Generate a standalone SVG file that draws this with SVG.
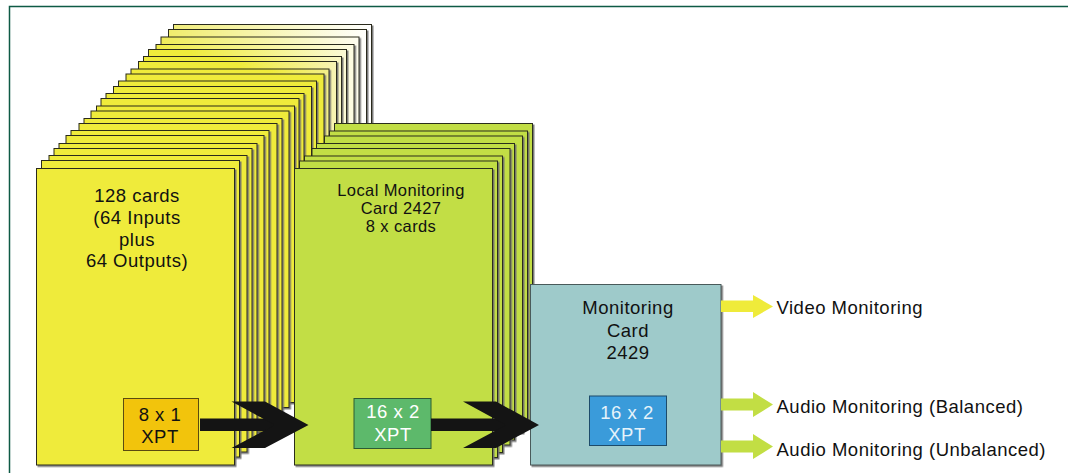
<svg xmlns="http://www.w3.org/2000/svg" width="1068" height="473" viewBox="0 0 1068 473">
<defs>
<style>
.t{font-family:"Liberation Sans",Arial,sans-serif;font-size:18.5px;letter-spacing:0.5px;fill:#111;text-anchor:middle}
.ts{font-size:16.5px;letter-spacing:0.4px}
.tl{text-anchor:start}
.yc{fill:#EFEB3A;stroke:#2b2a1c;stroke-width:1;filter:url(#ds)}
.gc{fill:#C2DE44;stroke:#2b2f1c;stroke-width:1;filter:url(#ds)}
.mc{fill:#9ECACA;stroke:#4a5a5a;stroke-width:1;filter:url(#ds)}
.blk{fill:#141414}
</style>
<filter id="ds" x="-5%" y="-5%" width="115%" height="115%">
<feDropShadow dx="1.5" dy="1.5" stdDeviation="0.4" flood-color="#6e6e6e" flood-opacity="0.9"/>
</filter>
<linearGradient id="g1" x1="0" y1="0" x2="1" y2="0"><stop offset="0" stop-color="#F1ED7C"/><stop offset="1" stop-color="#FFFFFF"/></linearGradient>
<linearGradient id="g2" x1="0" y1="0" x2="1" y2="0"><stop offset="0" stop-color="#F0EC6C"/><stop offset="1" stop-color="#FFFFFC"/></linearGradient>
<linearGradient id="g3" x1="0" y1="0" x2="1" y2="0"><stop offset="0" stop-color="#EFEB58"/><stop offset="1" stop-color="#FEFDF0"/></linearGradient>
<linearGradient id="g4" x1="0" y1="0" x2="1" y2="0"><stop offset="0" stop-color="#EFEB46"/><stop offset="1" stop-color="#FDFCE4"/></linearGradient>
<linearGradient id="g5" x1="0" y1="0" x2="1" y2="0"><stop offset="0.2" stop-color="#EFEB3A"/><stop offset="1" stop-color="#FBF9D6"/></linearGradient>
<linearGradient id="g6" x1="0" y1="0" x2="1" y2="0"><stop offset="0.4" stop-color="#EFEB3A"/><stop offset="1" stop-color="#F9F6C6"/></linearGradient>
<linearGradient id="g7" x1="0" y1="0" x2="1" y2="0"><stop offset="0.5" stop-color="#EFEB3A"/><stop offset="1" stop-color="#F7F3B4"/></linearGradient>
<linearGradient id="g8" x1="0" y1="0" x2="1" y2="0"><stop offset="0.7" stop-color="#EFEB3A"/><stop offset="1" stop-color="#F3EF8C"/></linearGradient>
</defs>
<rect width="1068" height="473" fill="#FFFFFF"/>
<path d="M9.5,473 V6.5 H1068" fill="none" stroke="#0E5A45" stroke-width="1.5"/>

<g id="io-card-stack">
<rect class="yc" x="173.5" y="24.5" width="198" height="296.5" style="fill:url(#g1)"/>
<rect class="yc" x="168.5" y="29.5" width="198" height="296.5" style="fill:url(#g2)"/>
<rect class="yc" x="161" y="37" width="198" height="296.5" style="fill:url(#g3)"/>
<rect class="yc" x="156" y="44.5" width="198" height="296.5" style="fill:url(#g4)"/>
<rect class="yc" x="148.5" y="49.5" width="198" height="296.5" style="fill:url(#g5)"/>
<rect class="yc" x="143.5" y="56.5" width="198" height="296.5" style="fill:url(#g6)"/>
<rect class="yc" x="138.5" y="61.5" width="198" height="296.5" style="fill:url(#g7)"/>
<rect class="yc" x="131" y="69" width="198" height="296.5" style="fill:url(#g8)"/>
<rect class="yc" x="126" y="74" width="198" height="296.5"/>
<rect class="yc" x="118.5" y="81" width="198" height="296.5"/>
<rect class="yc" x="113.5" y="86.5" width="198" height="296.5"/>
<rect class="yc" x="106" y="93.5" width="198" height="296.5"/>
<rect class="yc" x="101" y="98.5" width="198" height="296.5"/>
<rect class="yc" x="96.5" y="106" width="198" height="296.5"/>
<rect class="yc" x="91" y="111" width="198" height="296.5"/>
<rect class="yc" x="84" y="118.5" width="198" height="296.5"/>
<rect class="yc" x="79" y="123.5" width="198" height="296.5"/>
<rect class="yc" x="71" y="130.5" width="198" height="296.5"/>
<rect class="yc" x="66" y="135.5" width="198" height="296.5"/>
<rect class="yc" x="59" y="143.5" width="198" height="296.5"/>
<rect class="yc" x="54" y="148.5" width="198" height="296.5"/>
<rect class="yc" x="49" y="155.5" width="198" height="296.5"/>
<rect class="yc" x="41.5" y="160.5" width="198" height="296.5"/>
<rect class="yc" x="36.5" y="168.5" width="198" height="296.5"/>
<text class="t" x="137" y="201.7">128 cards</text>
<text class="t" x="137" y="224">(64 Inputs</text>
<text class="t" x="137" y="245.7">plus</text>
<text class="t" x="137" y="267.3">64 Outputs)</text>
</g>
<g id="xpt-8x1">
<rect x="123.5" y="398.5" width="75" height="52" fill="#F2C40C" stroke="#5a4a10" stroke-width="1"/>
<text class="t" x="160" y="420.7">8 x 1</text>
<text class="t" x="160" y="442.7">XPT</text>
</g>

<g id="local-monitoring-stack">
<rect class="gc" x="334.5" y="123.5" width="198" height="296.5"/>
<rect class="gc" x="329.5" y="131" width="198" height="296.5"/>
<rect class="gc" x="324.5" y="136" width="198" height="296.5"/>
<rect class="gc" x="316.5" y="143.5" width="198" height="296.5"/>
<rect class="gc" x="312" y="148.5" width="198" height="296.5"/>
<rect class="gc" x="304.5" y="156" width="198" height="296.5"/>
<rect class="gc" x="299.5" y="161" width="198" height="296.5"/>
<rect class="gc" x="294.5" y="168.5" width="198" height="296.5"/>
<text class="t ts" x="401" y="196">Local Monitoring</text>
<text class="t ts" x="401" y="214.3">Card 2427</text>
<text class="t ts" x="401" y="232.3">8 x cards</text>
</g>
<g id="xpt-16x2-local">
<rect x="354" y="398.5" width="77" height="50" fill="#5DB96B" stroke="#2d5c33" stroke-width="1"/>
<text class="t" x="393" y="418.3" style="fill:#FFFFFF">16 x 2</text>
<text class="t" x="393" y="441" style="fill:#FFFFFF">XPT</text>
</g>

<g id="monitoring-card">
<rect class="mc" x="530.5" y="284.5" width="190.5" height="180.5"/>
<text class="t" x="628" y="313.7">Monitoring</text>
<text class="t" x="628" y="336.7">Card</text>
<text class="t" x="628" y="359.3">2429</text>
</g>
<g id="xpt-16x2-monitor">
<rect x="589.5" y="396" width="77" height="49.5" fill="#3A9BDA" stroke="#1d4b6a" stroke-width="1"/>
<text class="t" x="627" y="419" style="fill:#E6F3FA">16 x 2</text>
<text class="t" x="627" y="440.7" style="fill:#E6F3FA">XPT</text>
</g>

<g id="label-video"><text class="t tl" x="776.5" y="314.3">Video Monitoring</text></g>
<g id="label-audio-bal"><text class="t tl" x="776.5" y="413.3">Audio Monitoring (Balanced)</text></g>
<g id="label-audio-unbal"><text class="t tl" x="776.5" y="455.7">Audio Monitoring (Unbalanced)</text></g>

<g id="connectors">
<rect class="blk" x="200" y="418.5" width="80" height="12.5"/>
<polygon class="blk" points="231.5,401.5 265,401.5 308.5,425 265,448 231.5,448 275,425"/>
<rect class="blk" x="431" y="418.5" width="80" height="12.5"/>
<polygon class="blk" points="463,401.5 496,401.5 539,425 496,448 463,448 506,425"/>
<polygon fill="#EFEB3A" points="721,300.5 753,300.5 753,295 773,306.5 753,318 753,312 721,312"/>
<polygon fill="#C2DE44" points="721,398.5 753,398.5 753,392 773,404.5 753,417 753,410.5 721,410.5"/>
<polygon fill="#C2DE44" points="721,440.5 753,440.5 753,434 773,446.5 753,459 753,452.5 721,452.5"/>
</g>
</svg>
